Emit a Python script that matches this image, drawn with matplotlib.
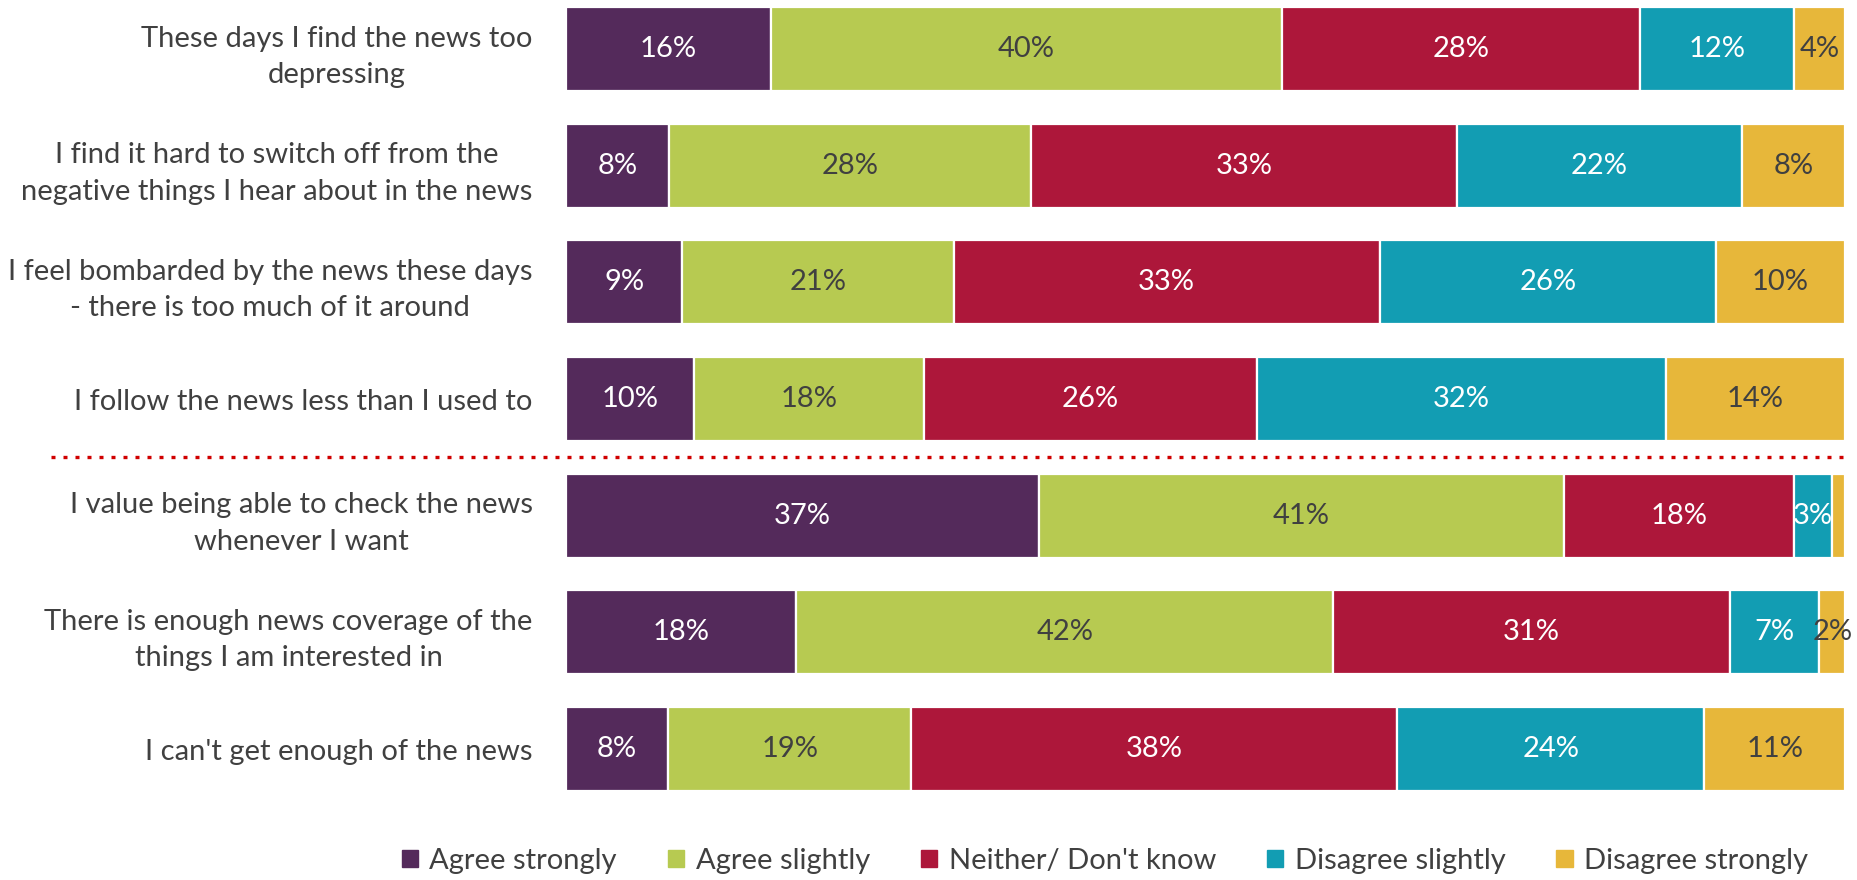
import matplotlib
matplotlib.use("Agg")
import matplotlib.pyplot as plt
import numpy as np

categories = [
    "These days I find the news too\ndepressing",
    "I find it hard to switch off from the\nnegative things I hear about in the news",
    "I feel bombarded by the news these days\n- there is too much of it around",
    "I follow the news less than I used to",
    "I value being able to check the news\nwhenever I want",
    "There is enough news coverage of the\nthings I am interested in",
    "I can't get enough of the news",
]
series_names = ["Agree strongly", "Agree slightly", "Neither/ Don't know",
                "Disagree slightly", "Disagree strongly"]
agree_strongly = [16, 8, 9, 10, 37, 18, 8]
agree_slightly = [40, 28, 21, 18, 41, 42, 19]
neither = [28, 33, 33, 26, 18, 31, 38]
disagree_slightly = [12, 22, 26, 32, 3, 7, 24]
disagree_strongly = [4, 8, 10, 14, 1, 2, 11]

colors = ["#542A5B", "#B7CA51", "#AD173A", "#129DB3", "#E7B73A"]
text_colors = ["white", "#404040", "white", "white", "#404040"]

plt.rcParams['font.family'] = ['Lato', 'DejaVu Sans']

W, H = 1857, 880
fig = plt.figure(figsize=(W / 100, H / 100), dpi=100)
ax_left, ax_right = 566 / W, 1845 / W
ax_top, ax_bottom = 0, 819
ax = fig.add_axes([ax_left, 1 - ax_bottom / H, ax_right - ax_left, (ax_bottom - ax_top) / H])

data = np.array([agree_strongly, agree_slightly, neither, disagree_slightly, disagree_strongly], dtype=float)
totals = data.sum(axis=0)
widths = data / totals * 100
y = np.arange(len(categories))
left = np.zeros(len(categories))
for i in range(len(series_names)):
    ax.barh(y, widths[i], left=left, height=0.72, color=colors[i],
            edgecolor="white", linewidth=1.6, label=series_names[i])
    for j in range(len(categories)):
        if data[i, j] >= 2:
            ax.text(left[j] + widths[i, j] / 2, y[j], f"{int(data[i, j])}%",
                    ha="center", va="center", color=text_colors[i], fontsize=21)
    left += widths[i]

ax.set_xlim(0, 100)
ax.set_ylim(6.6, -0.42)
ax.set_yticks(y)
ax.set_yticklabels(categories, fontsize=21, color="#404040", multialignment="center",
                   linespacing=1.5)
ax.tick_params(axis="y", length=0, pad=24)
ax.set_xticks([])
for s in ax.spines.values():
    s.set_visible(False)

# separator dotted line
ax.plot([-40.3, 100], [3.5, 3.5], color="#D00000", linewidth=2.4,
        linestyle=(0, (1.2, 2.4)), dash_capstyle="butt", clip_on=False)

handles = [plt.Rectangle((0, 0), 1, 1, color=c) for c in colors]
leg = fig.legend(handles, series_names, loc="center", bbox_to_anchor=(0.595, 0.022),
                 ncol=5, frameon=False, fontsize=21, handlelength=0.55, handleheight=0.55,
                 handletextpad=0.4, columnspacing=1.75)
for t in leg.get_texts():
    t.set_color("#404040")

fig.savefig("out.png", dpi=100)
